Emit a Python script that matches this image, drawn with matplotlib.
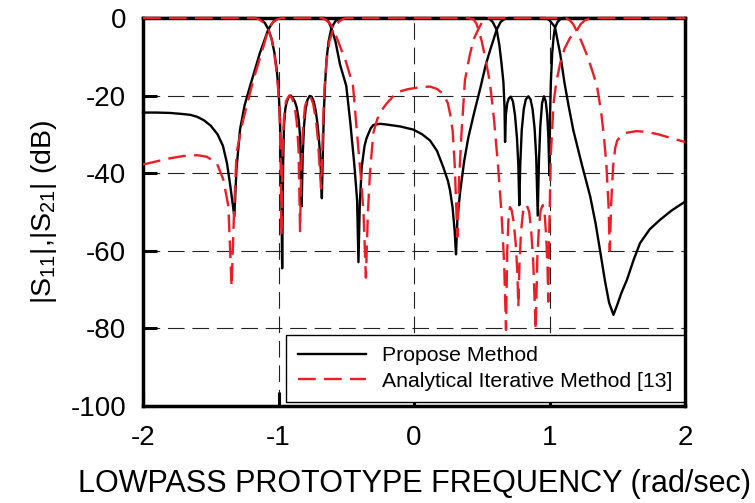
import numpy as np
import matplotlib
matplotlib.use("Agg")
import matplotlib.pyplot as plt

plt.rcParams['font.family'] = ['Liberation Sans', 'DejaVu Sans']
plt.rcParams['mathtext.fontset'] = 'custom'
plt.rcParams['mathtext.rm'] = 'Liberation Sans'
plt.rcParams['axes.unicode_minus'] = False

# Proposed method, |S21| (dB)
prop_s21_x = [-2.0, -1.9, -1.8, -1.7, -1.65, -1.6, -1.55, -1.5, -1.45, -1.41, -1.38, -1.355, -1.326,
              -1.31, -1.284, -1.25, -1.21, -1.137, -1.075, -1.04, -1.01, -0.99,
              -0.66, -0.645, -0.63, -0.61, -0.58, -0.546, -0.50, -0.47, -0.44, -0.42, -0.41,
              -0.40, -0.386, -0.365, -0.35, -0.32, -0.30, -0.25, -0.2, -0.1, -0.005, 0.06,
              0.118, 0.17, 0.216, 0.25, 0.266, 0.285, 0.30, 0.31, 0.32, 0.34, 0.37, 0.40,
              0.44, 0.49, 0.53, 0.56, 0.61, 0.64, 0.67, 0.70,
              0.97, 1.0, 1.04, 1.08, 1.11, 1.14, 1.176, 1.24, 1.30, 1.34, 1.373, 1.41, 1.44,
              1.472, 1.50, 1.53, 1.571, 1.62, 1.668, 1.74, 1.815, 1.9, 1.987, 2.0]
prop_s21_db = [-24.4, -24.4, -24.5, -24.8, -25.0, -25.5, -26.4, -27.8, -30.0, -33.0, -37.5, -43.5, -51.2,
               -39.0, -28.8, -22.5, -17.6, -9.0, -2.9, -1.0, -0.2, 0.0,
               0.0, -0.4, -1.0, -2.6, -6.0, -12.0, -17.5, -27.0, -38.0, -47.0, -63.0,
               -48.0, -38.5, -33.0, -31.0, -28.5, -27.6, -27.3, -27.5, -28.0, -28.8, -30.0,
               -31.6, -34.3, -38.5, -42.0, -44.5, -49.0, -55.0, -61.0, -52.0, -45.0, -37.0, -31.0,
               -25.0, -18.0, -12.0, -8.5, -3.0, -1.0, -0.2, 0.0,
               0.0, -0.6, -2.3, -9.5, -16.6, -22.5, -29.0, -38.0, -46.0, -53.0, -60.0, -68.0, -73.5,
               -76.6, -74.0, -71.0, -67.6, -62.5, -58.1, -54.5, -52.1, -49.7, -47.7, -47.4]

# Proposed method, |S11| (dB)
prop_s11_x = [-2.0, -1.16, -1.13, -1.10, -1.075, -1.05, -1.03, -1.013, -0.999, -0.989, -0.981,
              -0.973, -0.966, -0.96, -0.95, -0.94, -0.925, -0.91, -0.895, -0.88, -0.866, -0.85,
              -0.841, -0.835, -0.829, -0.822, -0.812, -0.80, -0.785, -0.77, -0.755, -0.74,
              -0.725, -0.71, -0.698, -0.688, -0.68, -0.673, -0.665, -0.657, -0.645, -0.63,
              -0.61, -0.58, -0.55, -0.52,
              0.53, 0.56, 0.58, 0.61, 0.63, 0.645, 0.66, 0.668, 0.672, 0.678, 0.688, 0.70,
              0.714, 0.73, 0.745, 0.76, 0.77, 0.777, 0.784, 0.795, 0.81, 0.825, 0.844, 0.86,
              0.875, 0.89, 0.902, 0.913, 0.922, 0.932, 0.945, 0.959, 0.972, 0.983, 0.992,
              0.999, 1.004, 1.01, 1.02, 1.03, 1.04, 1.06, 1.08, 1.1, 2.0]
prop_s11_db = [0.0, 0.0, -0.4, -1.3, -2.9, -5.5, -9.0, -13.3, -19.0, -26.2, -38.0,
               -64.6, -38.0, -28.0, -23.5, -21.8, -20.4, -20.0, -20.6, -21.5, -23.0, -26.5,
               -30.5, -37.0, -48.6, -36.0, -28.0, -23.5, -21.0, -20.1, -20.3, -21.5,
               -24.0, -28.0, -33.0, -39.0, -46.5, -35.0, -24.0, -17.5, -10.5, -6.0,
               -2.6, -0.8, -0.2, 0.0,
               0.0, -0.3, -1.0, -3.0, -7.0, -11.5, -16.6, -23.0, -32.0, -25.0, -22.0, -20.7,
               -20.3, -21.5, -25.0, -31.0, -38.0, -48.3, -38.0, -29.0, -23.5, -21.0, -20.2, -21.0,
               -23.5, -28.5, -36.0, -51.0, -37.0, -28.0, -22.0, -20.2, -21.5, -25.0, -31.0,
               -40.6, -25.0, -16.6, -9.0, -5.0, -2.5, -1.0, -0.3, 0.0, 0.0]

# Analytical iterative method [13], |S21| (dB)
ana_s21_x = [-2.0, -1.9, -1.8, -1.7, -1.6, -1.53, -1.456, -1.407, -1.37, -1.346, -1.33,
             -1.31, -1.26, -1.185, -1.11, -1.075, -1.04, -1.0, -0.97,
             -0.68, -0.65, -0.62, -0.60, -0.56, -0.50, -0.45, -0.42, -0.39, -0.373, -0.355,
             -0.34, -0.325, -0.30, -0.27, -0.25, -0.2, -0.128, -0.05, 0.0, 0.06, 0.118, 0.17,
             0.216, 0.25, 0.266, 0.285, 0.30, 0.32, 0.335, 0.35, 0.376, 0.41, 0.44, 0.475,
             0.50, 0.52, 0.55,
             1.12, 1.15, 1.175, 1.20, 1.235, 1.27, 1.31, 1.35, 1.38, 1.40, 1.42, 1.435, 1.445,
             1.455, 1.47, 1.485, 1.50, 1.53, 1.57, 1.64, 1.72, 1.8, 1.9, 2.0]
ana_s21_db = [-37.8, -37.0, -36.2, -35.6, -35.4, -35.8, -37.4, -41.7, -48.6, -69.3, -52.0,
              -34.8, -26.2, -15.9, -7.2, -2.9, -1.0, -0.2, 0.0,
              0.0, -0.5, -1.4, -2.5, -6.0, -11.5, -17.5, -30.0, -42.0, -50.0, -67.0,
              -50.0, -40.0, -29.6, -26.0, -24.3, -22.0, -19.2, -18.4, -18.1, -17.8, -17.7, -18.3,
              -19.6, -22.0, -24.7, -29.0, -37.6, -56.5, -40.0, -30.0, -16.0, -9.8, -5.5, -2.9,
              -1.2, -0.3, 0.0,
              0.0, -0.6, -1.6, -3.3, -6.0, -9.0, -13.0, -17.5, -24.0, -30.0, -38.0, -48.0, -60.0,
              -48.0, -38.0, -33.5, -31.6, -30.3, -29.6, -29.2, -29.4, -30.0, -31.0, -32.0]

# Analytical iterative method [13], |S11| (dB)
ana_s11_x = [-2.0, -1.17, -1.14, -1.11, -1.075, -1.05, -1.03, -1.01, -0.995, -0.985, -0.978,
             -0.97, -0.96, -0.945, -0.92, -0.90, -0.88, -0.865, -0.852, -0.841, -0.832, -0.82,
             -0.805, -0.785, -0.765, -0.745, -0.725, -0.71, -0.697, -0.686, -0.678, -0.67,
             -0.66, -0.645, -0.625, -0.60, -0.58, -0.55, -0.52, -0.49,
             0.40, 0.44, 0.46, 0.475, 0.50, 0.53, 0.56, 0.59, 0.62, 0.645, 0.665, 0.679, 0.688,
             0.697, 0.708, 0.72, 0.735, 0.75, 0.762, 0.77, 0.778, 0.79, 0.805, 0.82, 0.832,
             0.85, 0.865, 0.88, 0.898, 0.91, 0.922, 0.935, 0.95, 0.963, 0.975, 0.985, 0.991,
             0.998, 1.01, 1.03, 1.05, 1.08, 1.11, 1.15, 1.2, 1.23, 1.26, 1.3, 1.33, 2.0]
ana_s11_db = [0.0, 0.0, -0.4, -1.2, -2.9, -5.5, -9.5, -15.0, -22.0, -32.0, -56.0,
              -35.0, -26.0, -21.5, -20.0, -20.7, -23.0, -27.0, -34.0, -55.0, -38.0, -29.0,
              -23.0, -20.3, -20.3, -22.0, -26.0, -31.0, -38.0, -44.0, -36.0, -26.0,
              -18.0, -11.0, -6.0, -3.3, -2.0, -0.8, -0.2, 0.0,
              0.0, -0.4, -1.4, -2.9, -6.0, -11.0, -16.6, -26.0, -38.0, -50.0, -63.0, -80.5, -60.0,
              -52.0, -48.8, -49.5, -52.5, -58.0, -65.0, -74.5, -64.0, -55.0, -50.0, -48.3, -48.3,
              -50.0, -55.0, -63.0, -80.5, -62.0, -54.0, -49.5, -48.3, -50.0, -56.0, -64.0, -73.2,
              -55.0, -35.0, -22.0, -16.6, -11.5, -8.0, -5.2, -3.3, -1.6, -0.6, -0.1, 0.0, 0.0]

x_ticks = [-2, -1, 0, 1, 2]
y_ticks = [0, -20, -40, -60, -80, -100]

fig = plt.figure(figsize=(7.55, 5.03), dpi=100)
ax = fig.add_axes([0.1894, 0.1938, 0.7179, 0.7704])

black_kw = dict(color='black', linewidth=1.7, zorder=3, clip_on=False)
red_kw = dict(color='#ee1c24', linewidth=1.7, dashes=(7.5, 3.5), zorder=4, clip_on=False)

ax.plot(prop_s21_x, prop_s21_db, label='Propose Method', **black_kw)
ax.plot(prop_s11_x, prop_s11_db, **black_kw)
ax.plot(ana_s21_x, ana_s21_db, label='Analytical Iterative Method [13]', **red_kw)
ax.plot(ana_s11_x, ana_s11_db, **red_kw)

ax.set_xlim(-2, 2)
ax.set_ylim(-100, 0)
ax.set_xticks(x_ticks)
ax.set_yticks(y_ticks)
ax.grid(True, color='#222222', linewidth=0.8, linestyle=(0, (15, 7)))
ax.tick_params(direction='in', length=10, width=2.2, labelsize=20, pad=12)
ax.tick_params(axis='x', pad=14)
for s in ax.spines.values():
    s.set_linewidth(2.5)

ax.set_xlabel('LOWPASS PROTOTYPE FREQUENCY (rad/sec)', fontsize=22, labelpad=13)
ax.set_ylabel(r'|S$_{11}$|,|S$_{21}$| (dB)', fontsize=20.5, labelpad=8)

leg = ax.legend(loc='lower right', bbox_to_anchor=(0.998, 0.008), borderaxespad=0,
                fontsize=15.3, fancybox=False, framealpha=1, edgecolor='black',
                handlelength=3.2, handletextpad=0.75, labelspacing=0.3,
                borderpad=0.55)
leg.get_frame().set_linewidth(1.0)
leg.set_zorder(10)

fig.savefig('out.png', dpi=100)
